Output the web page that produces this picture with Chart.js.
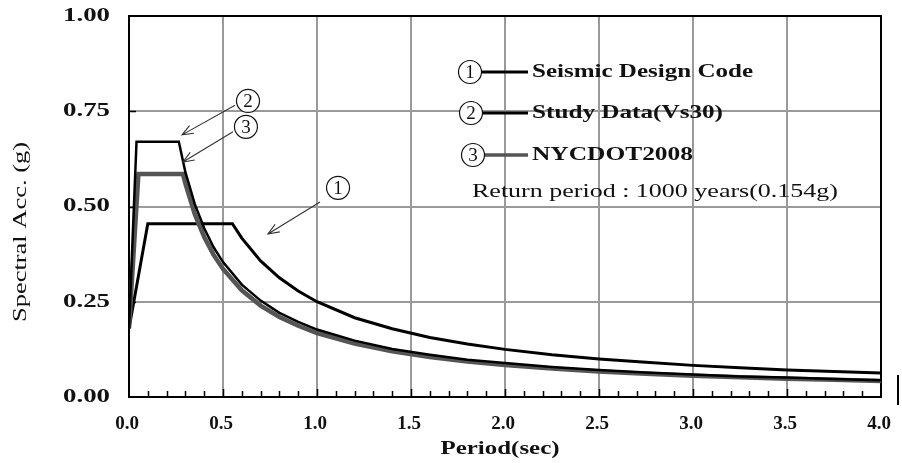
<!DOCTYPE html>
<html>
<head>
<meta charset="utf-8">
<script src="https://cdn.jsdelivr.net/npm/chart.js@4.4.1/dist/chart.umd.min.js"></script>
<style>
  html, body { margin: 0; padding: 0; background: #fff; }
  #wrap { width: 902px; height: 463px; }
</style>
</head>
<body>
<div id="wrap"><canvas id="myChart" width="902" height="463"></canvas></div>
<script>
// periods (sec) and spectral acceleration (g)
var designT  = [0, 0.1, 0.55, 0.6, 0.7, 0.8, 0.9, 1.0, 1.2, 1.4, 1.6, 1.8, 2.0, 2.25, 2.5, 2.75, 3.0, 3.25, 3.5, 3.75, 4.0]
var designSa = [0.18, 0.455, 0.455, 0.417, 0.357, 0.313, 0.278, 0.25, 0.208, 0.179, 0.156, 0.139, 0.125, 0.111, 0.1, 0.091, 0.083, 0.077, 0.071, 0.067, 0.063]

var studyT  = [0, 0.04, 0.265, 0.3, 0.35, 0.4, 0.45, 0.5, 0.6, 0.7, 0.8, 0.9, 1.0, 1.2, 1.4, 1.6, 1.8, 2.0, 2.25, 2.5, 2.75, 3.0, 3.25, 3.5, 3.75, 4.0]
var studySa = [0.18, 0.67, 0.67, 0.59, 0.506, 0.443, 0.393, 0.354, 0.295, 0.253, 0.221, 0.197, 0.177, 0.148, 0.126, 0.111, 0.098, 0.089, 0.079, 0.071, 0.064, 0.059, 0.054, 0.051, 0.047, 0.044]

var nycT  = [0, 0.05, 0.287, 0.3, 0.35, 0.4, 0.45, 0.5, 0.6, 0.7, 0.8, 0.9, 1.0, 1.2, 1.4, 1.6, 1.8, 2.0, 2.25, 2.5, 2.75, 3.0, 3.25, 3.5, 3.75, 4.0]
var nycSa = [0.18, 0.585, 0.585, 0.56, 0.48, 0.42, 0.373, 0.336, 0.28, 0.24, 0.21, 0.187, 0.168, 0.14, 0.12, 0.105, 0.093, 0.084, 0.075, 0.067, 0.061, 0.056, 0.052, 0.048, 0.045, 0.042]

var seriesNames = ['Seismic Design Code', 'Study Data(Vs30)', 'NYCDOT2008']
var xTicks = [0, 0.5, 1.0, 1.5, 2.0, 2.5, 3.0, 3.5, 4.0]
var yTicks = [0, 0.25, 0.5, 0.75, 1.0]
var noteText = 'Return period : 1000 years(0.154g)'

const serif = '"Liberation Serif", "Times New Roman", serif'

function pts(t, v) {
    return t.map((x, i) => ({x: x, y: v[i]}))
}

// text squeezed/stretched to a given width, like the original figure
function fitText(ctx, text, x, y, w, font, align) {
    ctx.save()
    ctx.font = font
    let m = ctx.measureText(text).width
    let s = w ? w / m : 1
    ctx.translate(x, y)
    ctx.scale(s, 1)
    ctx.textAlign = align || 'left'
    ctx.textBaseline = 'middle'
    ctx.fillStyle = '#111'
    ctx.fillText(text, 0, 0)
    ctx.restore()
}

function circled(ctx, n, cx, cy) {
    ctx.save()
    ctx.fillStyle = '#fff'
    ctx.strokeStyle = '#111'
    ctx.lineWidth = 1.2
    ctx.beginPath()
    ctx.arc(cx, cy, 11.5, 0, Math.PI * 2)
    ctx.fill()
    ctx.stroke()
    ctx.font = '19px ' + serif
    ctx.fillStyle = '#111'
    ctx.textAlign = 'center'
    ctx.textBaseline = 'middle'
    ctx.fillText(String(n), cx, cy + 1)
    ctx.restore()
}

function arrow(ctx, x1, y1, x2, y2) {
    let a = Math.atan2(y2 - y1, x2 - x1)
    ctx.save()
    ctx.strokeStyle = '#333'
    ctx.lineWidth = 1.1
    ctx.beginPath()
    ctx.moveTo(x1, y1)
    ctx.lineTo(x2, y2)
    ctx.moveTo(x2 - 12 * Math.cos(a - 0.38), y2 - 12 * Math.sin(a - 0.38))
    ctx.lineTo(x2, y2)
    ctx.lineTo(x2 - 12 * Math.cos(a + 0.38), y2 - 12 * Math.sin(a + 0.38))
    ctx.stroke()
    ctx.restore()
}

const framePlugin = {
    id: 'frame',
    beforeDatasetsDraw: chart => {
        let ctx = chart.ctx
        let a = chart.chartArea
        let xs = chart.scales.x
        let ys = chart.scales.y
        ctx.save()
        ctx.strokeStyle = '#000'
        ctx.lineWidth = 2
        ctx.strokeRect(a.left, a.top, a.right - a.left, a.bottom - a.top)
        // minor ticks on the period axis, pointing in
        ctx.lineWidth = 1.5
        ctx.beginPath()
        for (let k = 1; k < 40; k++) {
            let x = Math.round(xs.getPixelForValue(k / 10)) + 0.5
            let len = (k % 5 === 0) ? 8 : 6
            ctx.moveTo(x, a.bottom)
            ctx.lineTo(x, a.bottom - len)
        }
        for (let j = 1; j < yTicks.length - 1; j++) {
            let y = Math.round(ys.getPixelForValue(yTicks[j])) + 0.5
            ctx.moveTo(a.left, y)
            ctx.lineTo(a.left + 7, y)
        }
        ctx.stroke()
        // stray mark at the right of the original figure
        ctx.lineWidth = 2
        ctx.beginPath()
        ctx.moveTo(898, 375)
        ctx.lineTo(898, 405)
        ctx.stroke()
        ctx.restore()
    },
    afterDraw: chart => {
        let ctx = chart.ctx
        let xs = chart.scales.x
        let ys = chart.scales.y
        let px = v => xs.getPixelForValue(v)
        let py = v => ys.getPixelForValue(v)

        // tick labels
        for (let j = 0; j < yTicks.length; j++) {
            fitText(ctx, yTicks[j].toFixed(2), 110, py(yTicks[j]), 47, 'bold 19px ' + serif, 'right')
        }
        for (let i = 0; i < xTicks.length; i++) {
            fitText(ctx, xTicks[i].toFixed(1), px(xTicks[i]) - 2, 424, 0, 'bold 19px ' + serif, 'center')
        }
        // axis titles
        fitText(ctx, 'Period(sec)', 500, 449, 119, 'bold 19px ' + serif, 'center')
        ctx.save()
        ctx.translate(21, 232)
        ctx.rotate(-Math.PI / 2)
        fitText(ctx, 'Spectral Acc. (g)', 0, 0, 180, '19px ' + serif, 'center')
        ctx.restore()

        // legend
        let rows = [72, 113, 155]
        let cx = [470, 471, 473]
        let widths = [221, 191, 161]
        let colors = ['#000', '#000', '#555']
        for (let r = 0; r < 3; r++) {
            ctx.save()
            ctx.strokeStyle = colors[r]
            ctx.lineWidth = r === 2 ? 3.5 : 3
            ctx.beginPath()
            ctx.moveTo(cx[r] + 11, rows[r])
            ctx.lineTo(528, rows[r])
            ctx.stroke()
            ctx.restore()
            circled(ctx, r + 1, cx[r], rows[r])
            fitText(ctx, seriesNames[r], 532, rows[r], widths[r], 'bold 18px ' + serif, 'left')
        }
        fitText(ctx, noteText, 472, 192, 366, '18px ' + serif, 'left')

        // pointers to the curves (positions in period / g units)
        arrow(ctx, px(1.016), py(0.512), px(0.739), py(0.428))
        circled(ctx, 1, px(1.112), py(0.549))
        arrow(ctx, px(0.564), py(0.766), px(0.282), py(0.688))
        arrow(ctx, px(0.553), py(0.696), px(0.287), py(0.617))
        circled(ctx, 2, px(0.633), py(0.777))
        circled(ctx, 3, px(0.622), py(0.709))
    }
}

const ctx = document.getElementById('myChart')
new Chart(ctx, {
    type: 'scatter',
    data: {
        datasets: [{
            label: seriesNames[1],
            data: pts(studyT, studySa),
            borderColor: '#000',
            borderWidth: 2.5,
            order: 1
        }, {
            label: seriesNames[2],
            data: pts(nycT, nycSa),
            borderColor: '#555',
            borderWidth: 4.5,
            order: 2
        }, {
            label: seriesNames[0],
            data: pts(designT, designSa),
            borderColor: '#000',
            borderWidth: 3,
            order: 3
        }]
    },
    options: {
        responsive: false,
        animation: false,
        showLine: true,
        elements: {
            point: { radius: 0, hoverRadius: 0 },
            line: { tension: 0, borderJoinStyle: 'miter', fill: false }
        },
        layout: {
            padding: { left: 129, right: 21, top: 16, bottom: 66 }
        },
        scales: {
            x: {
                type: 'linear',
                min: 0,
                max: 4,
                border: { display: false },
                grid: { color: '#9a9a9a', lineWidth: 2, drawTicks: false },
                ticks: { stepSize: 0.5, display: false }
            },
            y: {
                min: 0,
                max: 1,
                border: { display: false },
                grid: { color: '#9a9a9a', lineWidth: 2, drawTicks: false },
                ticks: { stepSize: 0.25, display: false }
            }
        },
        plugins: {
            legend: { display: false },
            tooltip: { enabled: false }
        }
    },
    plugins: [framePlugin]
})
</script>
</body>
</html>
